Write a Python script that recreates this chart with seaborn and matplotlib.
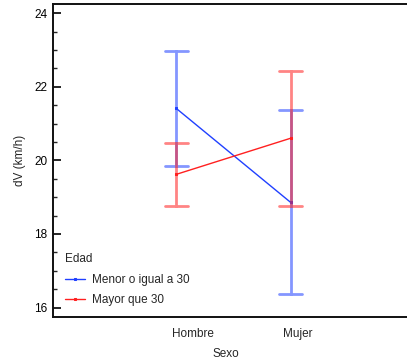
import numpy as np
import pandas as pd
import matplotlib
matplotlib.use("Agg")
import matplotlib.pyplot as plt
import seaborn as sns
from matplotlib.ticker import MultipleLocator

# Group means of dV with half-widths of the intervals
sexo = ["Hombre", "Mujer"]
edad = ["Menor o igual a 30", "Mayor que 30"]
media_menor = [21.41, 18.86]
media_mayor = [19.62, 20.60]
semi_menor = [1.55, 2.50]
semi_mayor = [0.85, 1.83]

rows = []
for grupo, medias, semis in [(edad[0], media_menor, semi_menor),
                             (edad[1], media_mayor, semi_mayor)]:
    for s, m, h in zip(sexo, medias, semis):
        rows.append({"Sexo": s, "Edad": grupo, "dV": m - h})
        rows.append({"Sexo": s, "Edad": grupo, "dV": m + h})
df = pd.DataFrame(rows)

sns.set_theme(style="ticks")
plt.rcParams["font.family"] = ["Liberation Sans", "DejaVu Sans"]

fig = plt.figure(figsize=(4.07, 3.63), dpi=100)
ax = fig.add_axes([53 / 407, 1 - 316.7 / 363, (407 - 53) / 407, (316.7 - 4) / 363])

paleta = {edad[0]: "#2040ff", edad[1]: "#ff2020"}
sns.pointplot(
    data=df, x="Sexo", y="dV", hue="Edad", order=sexo, hue_order=edad,
    palette=paleta, estimator="mean",
    errorbar=lambda v: (v.min(), v.max()),
    capsize=0.2, dodge=False, markers="s", markersize=1.6,
    linewidth=1.0, err_kws={"alpha": 0.55, "linewidth": 2.0},
    ax=ax,
)

ax.set_xlim(-1.08, 2.02)
ax.set_ylim(15.75, 24.25)
# category labels sit slightly right of their markers
ax.set_xticks([0.147, 1.061])
ax.set_xticklabels(sexo)
ax.yaxis.set_major_locator(MultipleLocator(2))
ax.yaxis.set_minor_locator(MultipleLocator(0.5))
ax.tick_params(axis="y", which="major", direction="in", length=6, width=1.2,
               labelsize=8.5, pad=4, colors="black")
ax.tick_params(axis="y", which="minor", direction="in", length=3, width=1.0)
ax.tick_params(axis="x", length=0, labelsize=8.5, pad=8)

for lado in ["left", "bottom", "top"]:
    ax.spines[lado].set_linewidth(1.4)
    ax.spines[lado].set_color("#111111")
ax.spines["right"].set_visible(False)

ax.set_xlabel("Sexo", fontsize=8.5)
ax.set_ylabel("dV (km/h)", fontsize=8.5, labelpad=6)
ax.xaxis.set_label_coords(0.488, -0.1)

leg = ax.legend(title="Edad", loc="lower left",
                bbox_to_anchor=(0.01, 0.008),
                frameon=False, fontsize=8.5, title_fontsize=8.5,
                alignment="left", handlelength=1.75, handletextpad=0.55,
                borderaxespad=0.3, labelspacing=0.7)
leg._legend_box.align = "left"

fig.savefig("out.png", dpi=100)
